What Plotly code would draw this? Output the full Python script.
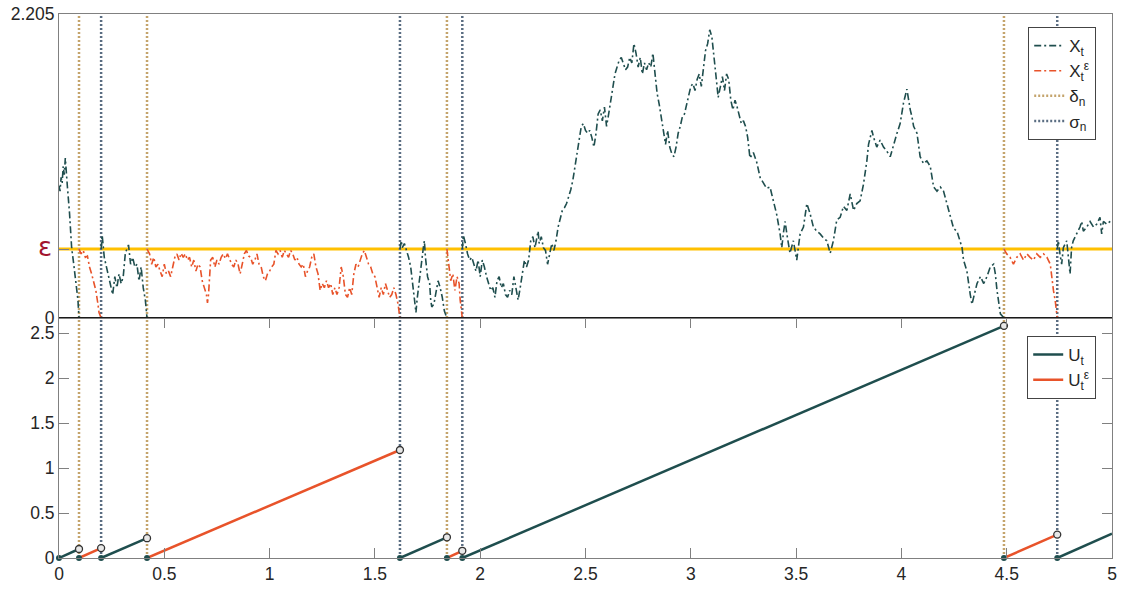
import plotly.graph_objects as go
from plotly.subplots import make_subplots

EPS = 0.5
Y_TOP = 2.205
U_TOP = 2.667
T_END = 5.0

# stopping times
delta_n = [0.095, 0.418, 1.842, 4.487]
sigma_n = [0.2, 1.619, 1.915, 4.740]

# ---- X_t (dark) pieces ----
xd1_t = [0, 0.005, 0.01, 0.015, 0.02, 0.025, 0.03, 0.035, 0.04, 0.05, 0.06, 0.07, 0.08, 0.09, 0.095]
xd1_v = [0.96, 0.92, 1.02, 0.98, 1.10, 1.04, 1.16, 1.08, 0.95, 0.76, 0.51, 0.39, 0.25, 0.13, 0.0]

xd2_t = [0.2, 0.205, 0.215, 0.225, 0.235, 0.245, 0.255, 0.265, 0.275, 0.285, 0.295, 0.305, 0.315, 0.325,
         0.33, 0.34, 0.35, 0.36, 0.37, 0.38, 0.39, 0.40, 0.41, 0.418]
xd2_v = [0.5, 0.6, 0.44, 0.37, 0.30, 0.22, 0.17, 0.30, 0.22, 0.32, 0.25, 0.30, 0.47, 0.51,
         0.53, 0.39, 0.44, 0.37, 0.39, 0.27, 0.37, 0.22, 0.13, 0.0]

xd3_t = [1.619, 1.625, 1.63, 1.64, 1.65, 1.66, 1.67, 1.68, 1.69, 1.695, 1.70, 1.71, 1.72, 1.73, 1.735,
         1.74, 1.75, 1.76, 1.765, 1.77, 1.78, 1.79, 1.80, 1.81, 1.82, 1.83, 1.842]
xd3_v = [0.5, 0.56, 0.51, 0.54, 0.49, 0.44, 0.37, 0.25, 0.13, 0.04, 0.13, 0.27, 0.39, 0.51, 0.56,
         0.44, 0.30, 0.25, 0.13, 0.08, 0.10, 0.20, 0.27, 0.22, 0.15, 0.05, 0.0]

xd4_t = [1.915, 1.92, 1.93, 1.94, 1.95, 1.96, 1.97, 1.98, 1.99, 2.00, 2.01, 2.02, 2.03, 2.04, 2.05,
         2.06, 2.07, 2.08, 2.09, 2.10, 2.11, 2.12, 2.13, 2.14, 2.15, 2.16, 2.17, 2.18, 2.19, 2.20,
         2.21, 2.22, 2.23, 2.24, 2.25, 2.26, 2.27, 2.275, 2.28, 2.29, 2.30, 2.31, 2.32, 2.33, 2.34,
         2.35, 2.36, 2.37, 2.38, 2.39, 2.40, 2.41, 2.42, 2.43, 2.44, 2.45, 2.46, 2.47, 2.48, 2.49,
         2.50, 2.51, 2.52, 2.53, 2.54, 2.55, 2.56, 2.57, 2.58, 2.59, 2.60, 2.61, 2.62, 2.63, 2.64,
         2.65, 2.66, 2.67, 2.68, 2.69, 2.70, 2.71, 2.72, 2.73, 2.74, 2.75, 2.76, 2.77, 2.78, 2.79,
         2.80, 2.81, 2.82, 2.83, 2.84, 2.85, 2.86, 2.87, 2.88, 2.89, 2.90, 2.91, 2.92, 2.93, 2.94,
         2.95, 2.96, 2.97, 2.98, 2.99, 3.00, 3.01, 3.02, 3.03, 3.04, 3.05, 3.06, 3.07, 3.08, 3.09,
         3.10, 3.11, 3.12, 3.13, 3.14, 3.15, 3.16, 3.17, 3.18, 3.19, 3.20, 3.21, 3.22, 3.23, 3.24,
         3.25, 3.26, 3.27, 3.281, 3.297, 3.313, 3.329, 3.345, 3.36, 3.376, 3.392, 3.408, 3.424,
         3.432, 3.44, 3.448, 3.456, 3.471, 3.487, 3.503, 3.519, 3.535, 3.551, 3.566, 3.582, 3.598,
         3.614, 3.63, 3.646, 3.662, 3.677, 3.693, 3.709, 3.725, 3.741, 3.757, 3.773, 3.788, 3.804,
         3.82, 3.836, 3.844, 3.86, 3.868, 3.883, 3.899, 3.915, 3.931, 3.947, 3.963, 3.979, 3.994,
         4.01, 4.026, 4.034, 4.042, 4.05, 4.058, 4.074, 4.089, 4.105, 4.121, 4.137, 4.153, 4.169,
         4.185, 4.2, 4.216, 4.232, 4.248, 4.264, 4.28, 4.288, 4.295, 4.311, 4.327, 4.335, 4.343,
         4.359, 4.375, 4.391, 4.406, 4.422, 4.438, 4.446, 4.454, 4.462, 4.47, 4.487]
xd4_v = [0.5, 0.60, 0.54, 0.465, 0.42, 0.44, 0.39, 0.34, 0.42, 0.30, 0.42, 0.37, 0.30, 0.25, 0.20,
         0.22, 0.15, 0.27, 0.30, 0.22, 0.25, 0.17, 0.15, 0.20, 0.17, 0.30, 0.22, 0.13, 0.22, 0.34,
         0.42, 0.37, 0.42, 0.56, 0.59, 0.51, 0.59, 0.63, 0.54, 0.59, 0.51, 0.49, 0.39, 0.465, 0.54,
         0.49, 0.56, 0.66, 0.73, 0.78, 0.80, 0.83, 0.88, 0.93, 1.00, 1.10, 1.19, 1.29, 1.39, 1.41,
         1.36, 1.34, 1.36, 1.31, 1.24, 1.34, 1.48, 1.51, 1.43, 1.53, 1.39, 1.48, 1.58, 1.65, 1.77,
         1.82, 1.87, 1.89, 1.85, 1.80, 1.82, 1.89, 1.85, 1.99, 1.92, 1.82, 1.89, 1.77, 1.85, 1.80,
         1.85, 1.82, 1.92, 1.75, 1.63, 1.55, 1.46, 1.34, 1.26, 1.36, 1.24, 1.19, 1.17, 1.24, 1.34,
         1.39, 1.46, 1.48, 1.55, 1.63, 1.68, 1.70, 1.65, 1.73, 1.77, 1.68, 1.82, 1.94, 1.99, 2.09,
         2.04, 1.87, 1.75, 1.60, 1.68, 1.75, 1.65, 1.77, 1.73, 1.58, 1.51, 1.58, 1.53, 1.46, 1.41,
         1.43, 1.39, 1.31, 1.16, 1.20, 1.13, 1.02, 0.98, 0.94, 0.95, 0.85, 0.75, 0.61,
         0.51, 0.62, 0.70, 0.61, 0.47, 0.56, 0.42, 0.61, 0.66, 0.83, 0.76, 0.66, 0.63,
         0.61, 0.58, 0.56, 0.47, 0.56, 0.71, 0.73, 0.81, 0.78, 0.90, 0.78, 0.83, 0.85,
         0.97, 1.14, 1.26, 1.36, 1.31, 1.24, 1.29, 1.24, 1.21, 1.17, 1.26, 1.34, 1.41,
         1.56, 1.66, 1.58, 1.51, 1.46, 1.39, 1.34, 1.17, 1.12, 1.14, 1.10, 0.95, 0.92,
         0.95, 0.92, 0.83, 0.75, 0.65, 0.63, 0.56, 0.51, 0.42, 0.34, 0.17, 0.10, 0.15,
         0.25, 0.30, 0.25, 0.30, 0.37, 0.39, 0.32, 0.20, 0.13, 0.03, 0.0]

xd5_t = [4.740, 4.745, 4.753, 4.761, 4.769, 4.785, 4.801, 4.808, 4.816, 4.832, 4.848, 4.856, 4.864,
         4.880, 4.896, 4.912, 4.927, 4.943, 4.951, 4.959, 4.975, 4.991, 5.0]
xd5_v = [0.5, 0.56, 0.465, 0.39, 0.51, 0.56, 0.32, 0.51, 0.56, 0.61, 0.66, 0.70, 0.63,
         0.66, 0.70, 0.66, 0.68, 0.73, 0.61, 0.70, 0.68, 0.70, 0.71]

# ---- X_t^eps (orange) pieces ----
xe1_t = [0.095, 0.105, 0.115, 0.125, 0.135, 0.145, 0.155, 0.165, 0.175, 0.185, 0.19, 0.2]
xe1_v = [0.5, 0.465, 0.49, 0.44, 0.45, 0.37, 0.32, 0.25, 0.20, 0.10, 0.04, 0.0]

xe2_t = [0.418, 0.43, 0.44, 0.45, 0.46, 0.47, 0.48, 0.49, 0.50, 0.51, 0.52, 0.53, 0.54, 0.55, 0.56,
         0.57, 0.58, 0.59, 0.60, 0.61, 0.62, 0.63, 0.64, 0.65, 0.66, 0.67, 0.68, 0.69, 0.70, 0.705,
         0.71, 0.72, 0.73, 0.74, 0.75, 0.76, 0.77, 0.78, 0.79, 0.80, 0.81, 0.82, 0.83, 0.84, 0.85,
         0.86, 0.87, 0.88, 0.89, 0.90, 0.91, 0.92, 0.93, 0.94, 0.95, 0.96, 0.97, 0.98, 0.99, 1.00,
         1.01, 1.02, 1.03, 1.04, 1.05, 1.06, 1.07, 1.08, 1.09, 1.10, 1.11, 1.12, 1.13, 1.14, 1.15,
         1.16, 1.17, 1.18, 1.19, 1.20, 1.21, 1.22, 1.23, 1.24, 1.25, 1.26, 1.27, 1.28, 1.29, 1.30,
         1.31, 1.32, 1.33, 1.34, 1.35, 1.36, 1.37, 1.38, 1.39, 1.40, 1.41, 1.42, 1.43, 1.44, 1.45,
         1.46, 1.47, 1.48, 1.49, 1.50, 1.51, 1.52, 1.53, 1.54, 1.55, 1.56, 1.57, 1.58, 1.59, 1.60,
         1.61, 1.619]
xe2_v = [0.50, 0.465, 0.39, 0.44, 0.37, 0.39, 0.34, 0.30, 0.39, 0.32, 0.34, 0.30, 0.37, 0.44, 0.465,
         0.42, 0.47, 0.44, 0.465, 0.42, 0.44, 0.37, 0.42, 0.34, 0.39, 0.37, 0.27, 0.22, 0.17, 0.11,
         0.17, 0.42, 0.44, 0.37, 0.42, 0.39, 0.44, 0.465, 0.43, 0.465, 0.42, 0.39, 0.37, 0.42, 0.39,
         0.32, 0.39, 0.465, 0.49, 0.45, 0.44, 0.39, 0.42, 0.465, 0.39, 0.37, 0.30, 0.27, 0.32, 0.34,
         0.37, 0.39, 0.49, 0.465, 0.49, 0.44, 0.49, 0.465, 0.44, 0.49, 0.465, 0.42, 0.44, 0.39, 0.37,
         0.39, 0.30, 0.34, 0.37, 0.44, 0.465, 0.37, 0.32, 0.20, 0.25, 0.22, 0.27, 0.22, 0.25, 0.17,
         0.22, 0.17, 0.22, 0.37, 0.30, 0.17, 0.15, 0.22, 0.17, 0.32, 0.39, 0.37, 0.42, 0.465, 0.49,
         0.44, 0.39, 0.37, 0.32, 0.30, 0.22, 0.15, 0.22, 0.17, 0.25, 0.20, 0.15, 0.17, 0.22, 0.17,
         0.10, 0.0]

xe3_t = [1.842, 1.85, 1.86, 1.87, 1.88, 1.89, 1.90, 1.905, 1.915]
xe3_v = [0.5, 0.39, 0.27, 0.32, 0.20, 0.30, 0.25, 0.13, 0.0]

xe4_t = [4.487, 4.500, 4.516, 4.532, 4.548, 4.564, 4.580, 4.596, 4.611, 4.627, 4.643, 4.659, 4.675,
         4.691, 4.707, 4.715, 4.722, 4.730, 4.738, 4.740]
xe4_v = [0.5, 0.465, 0.44, 0.39, 0.44, 0.465, 0.42, 0.465, 0.44, 0.42, 0.465, 0.44, 0.465,
         0.44, 0.39, 0.27, 0.20, 0.13, 0.03, 0.0]

# ---- U_t renewal segments ----
u_start = [0.0, 0.095, 0.2, 0.418, 1.619, 1.842, 1.915, 4.487, 4.740]
u_end_t = [0.095, 0.2, 0.418, 1.619, 1.842, 1.915, 4.487, 4.740, 5.0]
u_end_v = [0.10, 0.11, 0.22, 1.20, 0.23, 0.08, 2.58, 0.26, 0.27]
u_kind = ["d", "e", "d", "e", "d", "e", "d", "e", "d"]

DARK = "#1F4E4E"
ORANGE = "#E8532A"
YELLOW = "#FFC000"
TAN = "#C4A46C"
SLATE = "#5A6D82"
AXC = "#808080"
TXT = "#262626"


def join(pieces):
    xs, ys = [], []
    for tt, vv in pieces:
        if xs:
            xs.append(None)
            ys.append(None)
        xs += list(tt)
        ys += list(vv)
    return xs, ys


def vlines(times, top):
    xs, ys = [], []
    for t in times:
        xs += [t, t, None]
        ys += [0, top, None]
    return xs, ys


fig = make_subplots(rows=2, cols=1, shared_xaxes=True, vertical_spacing=0,
                    row_heights=[304 / 544, 240 / 544])

# ---------- top panel ----------
fig.add_trace(go.Scatter(x=[0, T_END], y=[EPS, EPS], mode="lines",
                         line=dict(color=YELLOW, width=3), showlegend=False,
                         hoverinfo="skip"), row=1, col=1)

dx, dy = vlines(delta_n, Y_TOP)
fig.add_trace(go.Scatter(x=dx, y=dy, mode="lines", name="δ<sub>n</sub>",
                         line=dict(color=TAN, width=2.5, dash="2px,2px"),
                         legend="legend", legendrank=3), row=1, col=1)
sx, sy = vlines(sigma_n, Y_TOP)
fig.add_trace(go.Scatter(x=sx, y=sy, mode="lines", name="σ<sub>n</sub>",
                         line=dict(color=SLATE, width=2.5, dash="2px,2px"),
                         legend="legend", legendrank=4), row=1, col=1)

xdx, xdy = join([(xd1_t, xd1_v), (xd2_t, xd2_v), (xd3_t, xd3_v), (xd4_t, xd4_v), (xd5_t, xd5_v)])
fig.add_trace(go.Scatter(x=xdx, y=xdy, mode="lines", name="X<sub>t</sub>",
                         line=dict(color=DARK, width=1.6, dash="7px,3px,2px,3px"),
                         legend="legend", legendrank=1), row=1, col=1)
xex, xey = join([(xe1_t, xe1_v), (xe2_t, xe2_v), (xe3_t, xe3_v), (xe4_t, xe4_v)])
fig.add_trace(go.Scatter(x=xex, y=xey, mode="lines", name="X<sub>t</sub><sup>ε</sup>",
                         line=dict(color=ORANGE, width=1.6, dash="7px,3px,2px,3px"),
                         legend="legend", legendrank=2), row=1, col=1)

# ---------- bottom panel ----------
dx2, dy2 = vlines(delta_n, U_TOP)
fig.add_trace(go.Scatter(x=dx2, y=dy2, mode="lines", showlegend=False,
                         line=dict(color=TAN, width=2.5, dash="2px,2px")), row=2, col=1)
sx2, sy2 = vlines(sigma_n, U_TOP)
fig.add_trace(go.Scatter(x=sx2, y=sy2, mode="lines", showlegend=False,
                         line=dict(color=SLATE, width=2.5, dash="2px,2px")), row=2, col=1)

for kind, color, name, rank in [("d", DARK, "U<sub>t</sub>", 1),
                                ("e", ORANGE, "U<sub>t</sub><sup>ε</sup>", 2)]:
    ux, uy = [], []
    for s, et, ev, k in zip(u_start, u_end_t, u_end_v, u_kind):
        if k == kind:
            ux += [s, et, None]
            uy += [0, ev, None]
    fig.add_trace(go.Scatter(x=ux, y=uy, mode="lines", name=name,
                             line=dict(color=color, width=2.5),
                             legend="legend2", legendrank=rank), row=2, col=1)

fig.add_trace(go.Scatter(x=u_start, y=[0] * len(u_start), mode="markers",
                         marker=dict(color=DARK, size=6), showlegend=False,
                         cliponaxis=False), row=2, col=1)
fig.add_trace(go.Scatter(x=u_end_t[:-1], y=u_end_v[:-1], mode="markers",
                         marker=dict(color="#e8e8e8", size=7, line=dict(color="#333333", width=1.3)),
                         showlegend=False, cliponaxis=False), row=2, col=1)

# ---------- axes ----------
fig.update_xaxes(range=[0, T_END], showgrid=False, zeroline=False, showline=True,
                 linecolor=AXC, linewidth=1, automargin=False)
fig.update_xaxes(showticklabels=False, ticks="", mirror=True, row=1, col=1)
fig.update_xaxes(ticks="inside", ticklen=10, tickcolor=AXC, mirror="ticks",
                 tickvals=[0, 0.5, 1, 1.5, 2, 2.5, 3, 3.5, 4, 4.5, 5],
                 ticktext=["0", "0.5", "1", "1.5", "2", "2.5", "3", "3.5", "4", "4.5", "5"],
                 row=2, col=1)
fig.update_yaxes(showgrid=False, zeroline=False, showline=True, linecolor=AXC, linewidth=1,
                 ticks="inside", ticklen=10, tickcolor=AXC, automargin=False)
fig.update_yaxes(range=[0, Y_TOP], tickvals=[0, EPS, Y_TOP], ticktext=["0", "", "2.205"],
                 mirror=True, row=1, col=1)
fig.update_yaxes(range=[0, U_TOP], tickvals=[0, 0.5, 1, 1.5, 2, 2.5],
                 ticktext=["0", "0.5", "1", "1.5", "2", "2.5"], mirror="ticks", row=2, col=1)

fig.add_shape(type="line", xref="x", yref="y", x0=0, x1=T_END, y0=0, y1=0,
              line=dict(color="#1a1a1a", width=2), layer="above")

fig.add_annotation(x=0, xref="paper", y=EPS, yref="y", text="ε", showarrow=False,
                   xanchor="right", yanchor="middle", xshift=-5, yshift=2,
                   font=dict(size=26, color="#A2142F", family="DejaVu Sans"))

fig.update_layout(
    width=1123, height=590,
    margin=dict(l=59, r=11, t=14, b=32, autoexpand=False),
    plot_bgcolor="white", paper_bgcolor="white",
    font=dict(family="Liberation Sans, Arial, sans-serif", size=17.5, color=TXT),
    legend=dict(x=0.985, y=0.976, xanchor="right", yanchor="top", bgcolor="white",
                bordercolor="#444444", borderwidth=1, font=dict(size=17), tracegroupgap=0),
    legend2=dict(x=0.985, y=0.408, xanchor="right", yanchor="top", bgcolor="white",
                 bordercolor="#444444", borderwidth=1, font=dict(size=17), tracegroupgap=0),
)

fig.write_html("out.html", config={"displayModeBar": False},
               post_script="document.body.style.margin='0';document.body.style.padding='0';"
                           "document.body.style.overflow='hidden';")
